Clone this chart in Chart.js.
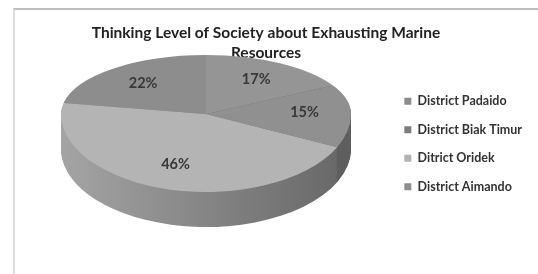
<!DOCTYPE html>
<html><head><meta charset="utf-8">
<script src="https://cdn.jsdelivr.net/npm/chart.js@4.4.0/dist/chart.umd.min.js"></script>
<style>
html,body{margin:0;padding:0;background:#fff;}
#wrap{position:relative;width:538px;height:274px;overflow:hidden;background:#fff;}
#frame{position:absolute;left:13px;top:8px;width:540px;height:270px;border-top:2px solid #bdbdbd;border-left:2px solid #dcdcdc;}
canvas{position:absolute;left:0;top:0;}
</style></head><body>
<div id="wrap"><div id="frame"></div><canvas id="c" width="538" height="274"></canvas></div>
<script>
const titleLines = ['Thinking Level of Society about Exhausting Marine', 'Resources'];
const categories = ['District Padaido', 'District Biak Timur', 'Ditrict Oridek', 'District Aimando'];
const values = [17, 15, 46, 22];
const percentLabels = ['17%', '15%', '46%', '22%'];
const topColors = ['#959595', '#909090', '#b4b4b4', '#8d8d8d'];
const legendColors = ['#8c8c8c', '#7d7d7d', '#b2b2b2', '#8e8e8e'];
const sideLeft = ['#8a8a8a', '#5c5c5c', '#a4a4a4', '#a0a0a0'];
const sideRight = ['#5a5a5a', '#5e5e5e', '#666666', '#6a6a6a'];

// projected position of the 3D pie (perspective: back half flatter than front half)
const CX = 206, CY = 114, RX = 145, RY_BACK = 59, RY_FRONT = 78, DEPTH = 35, LABEL_F = 0.68;

function halfTransform(ctx, a0, dy, back) {
  const k = (back ? RY_BACK : RY_FRONT) / RX;
  ctx.beginPath();
  if (back) ctx.rect(0, -1000, 2000, CY + dy + 1000);
  else ctx.rect(0, CY + dy, 2000, 1000);
  ctx.clip();
  ctx.translate(CX, CY + dy);
  ctx.scale(1, k);
  ctx.translate(-a0.x, -a0.y);
}

const pie3d = {
  id: 'pie3d',
  beforeDatasetsDraw(chart) {
    const arcs = chart.getDatasetMeta(0).data;
    const ctx = chart.ctx;
    const a0 = arcs[0];
    // side walls
    for (let d = DEPTH; d >= 1; d--) {
      [true, false].forEach(back => {
        ctx.save();
        halfTransform(ctx, a0, d, back);
        arcs.forEach((a, i) => {
          const g = ctx.createLinearGradient(a.x - a.outerRadius, 0, a.x + a.outerRadius, 0);
          g.addColorStop(0, sideLeft[i]);
          g.addColorStop(1, sideRight[i]);
          ctx.beginPath();
          ctx.moveTo(a.x, a.y);
          ctx.arc(a.x, a.y, a.outerRadius, a.startAngle, a.endAngle);
          ctx.closePath();
          ctx.fillStyle = g;
          ctx.fill();
        });
        ctx.restore();
      });
    }
    // back half of top face, drawn by the arc elements
    ctx.save();
    halfTransform(ctx, a0, 0, true);
    arcs.forEach(a => a.draw(ctx));
    ctx.restore();
    // front half: the chart draws the dataset itself inside this transform
    ctx.save();
    halfTransform(ctx, a0, 0, false);
  },
  afterDatasetsDraw(chart) {
    const ctx = chart.ctx;
    ctx.restore();
    const arcs = chart.getDatasetMeta(0).data;
    ctx.save();
    ctx.font = 'bold 14.5px Lato';
    ctx.fillStyle = '#383838';
    ctx.textAlign = 'center';
    ctx.textBaseline = 'middle';
    arcs.forEach((a, i) => {
      const mid = (a.startAngle + a.endAngle) / 2;
      const s = Math.sin(mid);
      const k = (s < 0 ? RY_BACK : RY_FRONT) / RX;
      const px = CX + Math.cos(mid) * a.outerRadius * LABEL_F;
      const py = CY + s * a.outerRadius * LABEL_F * k;
      ctx.fillText(percentLabels[i], px, py);
    });
    ctx.restore();
  }
};

new Chart(document.getElementById('c'), {
  type: 'pie',
  data: {
    labels: categories,
    datasets: [{ data: values, backgroundColor: topColors, borderWidth: 0, radius: RX }]
  },
  options: {
    responsive: false,
    devicePixelRatio: 1,
    animation: false,
    events: [],
    layout: { padding: { top: 14, right: 6, bottom: 0, left: 0 } },
    plugins: {
      title: {
        display: true,
        text: titleLines,
        color: '#222',
        font: { family: 'Lato', size: 15.5, weight: 'bold', lineHeight: 1.3 },
        padding: { top: 9, bottom: 10 }
      },
      legend: {
        position: 'right',
        align: 'center',
        labels: {
          boxWidth: 7,
          boxHeight: 7,
          padding: 16,
          color: '#333',
          font: { family: 'Lato', size: 12.5, weight: 'bold' },
          generateLabels() {
            return categories.map((c, i) => ({
              text: c, fillStyle: legendColors[i], strokeStyle: legendColors[i],
              lineWidth: 0, hidden: false, index: i, fontColor: '#333'
            }));
          }
        }
      },
      tooltip: { enabled: false }
    }
  },
  plugins: [pie3d]
});
</script>
</body></html>
